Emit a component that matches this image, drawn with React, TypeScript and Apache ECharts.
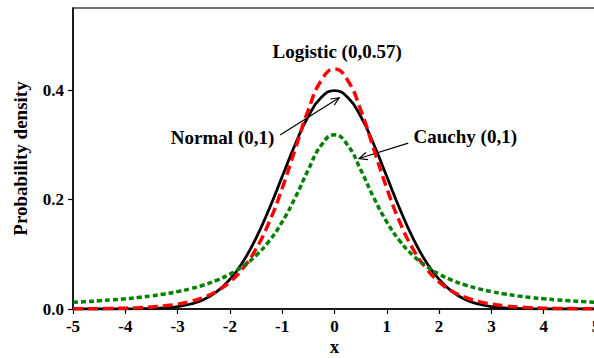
import React, { useEffect, useRef } from "react";
import * as echarts from "echarts";

const xValues = [
  -5, -4.75, -4.5, -4.25, -4, -3.75, -3.5, -3.25, -3, -2.75, -2.5, -2.25, -2, -1.75, -1.5, -1.25, -1, -0.75, -0.5, -0.25,
  0, 0.25, 0.5, 0.75, 1, 1.25, 1.5, 1.75, 2, 2.25, 2.5, 2.75, 3, 3.25, 3.5, 3.75, 4, 4.25, 4.5, 4.75, 5,
];
const normalValues = [
  0.0, 0.0, 0.0, 0.0, 0.0001, 0.0004, 0.0009, 0.002, 0.0044, 0.0091, 0.0175, 0.0317, 0.054, 0.0863, 0.1295, 0.1826,
  0.242, 0.3011, 0.3521, 0.3867, 0.3989, 0.3867, 0.3521, 0.3011, 0.242, 0.1826, 0.1295, 0.0863, 0.054, 0.0317, 0.0175,
  0.0091, 0.0044, 0.002, 0.0009, 0.0004, 0.0001, 0.0, 0.0, 0.0, 0.0,
];
const logisticValues = [
  0.0003, 0.0004, 0.0007, 0.001, 0.0016, 0.0024, 0.0038, 0.0058, 0.009, 0.0139, 0.0213, 0.0326, 0.0495, 0.0744, 0.1099,
  0.1584, 0.2206, 0.2926, 0.364, 0.4181, 0.4386, 0.4181, 0.364, 0.2926, 0.2206, 0.1584, 0.1099, 0.0744, 0.0495, 0.0326,
  0.0213, 0.0139, 0.009, 0.0058, 0.0038, 0.0024, 0.0016, 0.001, 0.0007, 0.0004, 0.0003,
];
const cauchyValues = [
  0.0122, 0.0135, 0.015, 0.0167, 0.0187, 0.0211, 0.024, 0.0275, 0.0318, 0.0372, 0.0439, 0.0525, 0.0637, 0.0784, 0.0979,
  0.1242, 0.1592, 0.2037, 0.2546, 0.2996, 0.3183, 0.2996, 0.2546, 0.2037, 0.1592, 0.1242, 0.0979, 0.0784, 0.0637, 0.0525,
  0.0439, 0.0372, 0.0318, 0.0275, 0.024, 0.0211, 0.0187, 0.0167, 0.015, 0.0135, 0.0122,
];
const yTicks = [0, 0.2, 0.4];

// annotations in data coordinates
const annotations = [
  { text: "Logistic (0,0.57)", at: [0.05, 0.47] },
  { text: "Normal (0,1)", at: [-2.14, 0.314] },
  { text: "Cauchy (0,1)", at: [2.5, 0.316] },
];
const arrows = [
  { from: [-1.04, 0.318], to: [0.09, 0.386] },
  { from: [1.41, 0.303], to: [0.47, 0.275] },
];

const FONT = "Liberation Serif";

export default function App() {
  const ref = useRef<HTMLDivElement>(null);
  useEffect(() => {
    if (!ref.current) return;
    const chart = echarts.init(ref.current, null, { renderer: "svg" });
    const pairs = (vals: number[]) => xValues.map((x, i) => [x, vals[i]]);
    chart.setOption({
      animation: false,
      backgroundColor: "#ffffff",
      grid: {
        left: 73,
        top: 8,
        right: -2,
        bottom: 49,
        outerBoundsMode: "none",
        containLabel: false,
        show: true,
        borderColor: "#444444",
        borderWidth: 1.5,
        backgroundColor: "transparent",
      },
      xAxis: {
        type: "value",
        min: -5,
        max: 5,
        interval: 1,
        name: "x",
        nameLocation: "middle",
        nameGap: 28,
        nameMoveOverlap: false,
        nameTextStyle: { fontFamily: FONT, fontWeight: "bold", fontSize: 19, color: "#000" },
        axisLine: { show: true, onZero: false, lineStyle: { color: "#000", width: 1.5 } },
        axisTick: { show: true, inside: false, length: 5, lineStyle: { color: "#000", width: 1.2 } },
        axisLabel: { fontFamily: FONT, fontWeight: "bold", fontSize: 17, color: "#000", margin: 9 },
        splitLine: { show: false },
      },
      yAxis: {
        type: "value",
        min: 0,
        max: 0.55,
        name: "Probability density",
        nameLocation: "middle",
        nameGap: 43,
        nameMoveOverlap: false,
        nameTextStyle: { fontFamily: FONT, fontWeight: "bold", fontSize: 19, color: "#000" },
        axisLine: { show: true, onZero: false, lineStyle: { color: "#000", width: 1.5 } },
        axisTick: { show: true, inside: false, length: 5, customValues: yTicks, lineStyle: { color: "#000", width: 1.2 } },
        axisLabel: {
          fontFamily: FONT,
          fontWeight: "bold",
          fontSize: 17,
          color: "#000",
          margin: 9,
          customValues: yTicks,
          formatter: (v: number) => v.toFixed(1),
        },
        splitLine: { show: false },
      },
      series: [
        {
          type: "line",
          name: "Normal",
          data: pairs(normalValues),
          smooth: true,
          showSymbol: false,
          lineStyle: { color: "#000000", width: 2.8, type: "solid" },
        },
        {
          type: "line",
          name: "Logistic",
          data: pairs(logisticValues),
          smooth: true,
          showSymbol: false,
          lineStyle: { color: "#ff0000", width: 3.5, type: [10, 5] },
        },
        {
          type: "line",
          name: "Cauchy",
          data: pairs(cauchyValues),
          smooth: true,
          showSymbol: false,
          lineStyle: { color: "#008000", width: 3.5, type: [5, 3] },
        },
      ],
    });

    const px = (p: number[]) => chart.convertToPixel({ gridIndex: 0 }, p) as number[];
    const elements: any[] = [];
    annotations.forEach((a) => {
      const [x, y] = px(a.at);
      elements.push({
        type: "text",
        x,
        y,
        style: {
          text: a.text,
          font: `bold 19px "${FONT}"`,
          fill: "#000",
          textAlign: "center",
          textVerticalAlign: "middle",
        },
      });
    });
    arrows.forEach((a) => {
      const [x1, y1] = px(a.from);
      const [x2, y2] = px(a.to);
      const ang = Math.atan2(y2 - y1, x2 - x1);
      const L = 9;
      const s = 0.42;
      elements.push({
        type: "line",
        shape: { x1, y1, x2, y2 },
        style: { stroke: "#000", lineWidth: 1.2 },
      });
      elements.push({
        type: "polyline",
        shape: {
          points: [
            [x2 - L * Math.cos(ang - s), y2 - L * Math.sin(ang - s)],
            [x2, y2],
            [x2 - L * Math.cos(ang + s), y2 - L * Math.sin(ang + s)],
          ],
        },
        style: { stroke: "#000", lineWidth: 1.2, fill: "none" },
      });
    });
    chart.setOption({ graphic: { elements } });

    return () => chart.dispose();
  }, []);
  return <div ref={ref} style={{ width: 594, height: 358, position: "fixed", left: 0, top: 0 }} />;
}
